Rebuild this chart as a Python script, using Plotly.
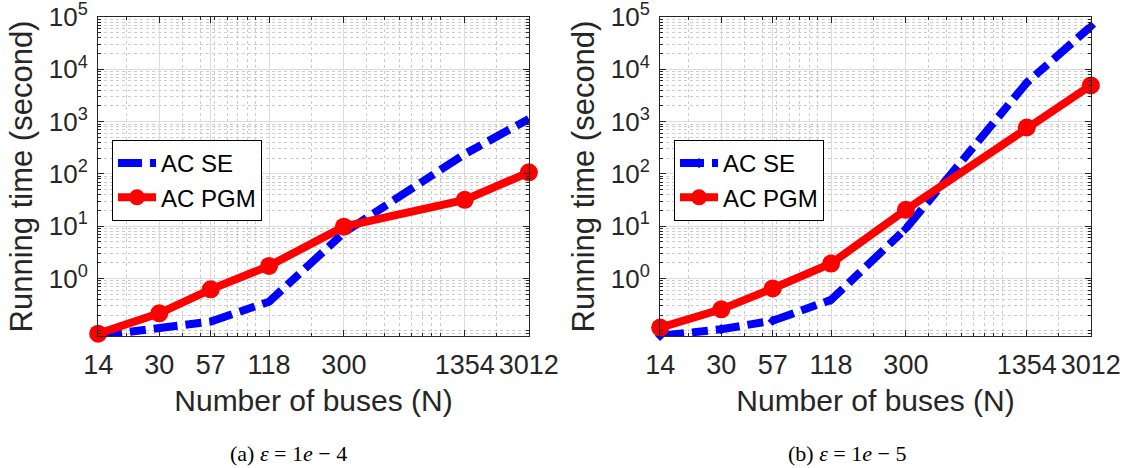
import math
import plotly.graph_objects as go

# ---- data ----
buses = [14, 30, 57, 118, 300, 1354, 3012]
bus_labels = ["14", "30", "57", "118", "300", "1354", "3012"]
se_a = [0.08, 0.112, 0.15, 0.36, 7.5, 240, 1120]
pgm_a = [0.088, 0.216, 0.62, 1.74, 9.8, 31.9, 107]
se_b = [0.08, 0.107, 0.156, 0.39, 9.0, 5540, 66000]
pgm_b = [0.115, 0.257, 0.645, 1.93, 20.6, 771, 4930]
y_major = [1, 10, 100, 1000, 10000, 100000]
y_major_text = ["10<sup>0</sup>", "10<sup>1</sup>", "10<sup>2</sup>",
                "10<sup>3</sup>", "10<sup>4</sup>", "10<sup>5</sup>"]
captions = ["(a) <i>ε</i> = 1<i>e</i> − 4", "(b) <i>ε</i> = 1<i>e</i> − 5"]

x_minor = [d * 10 ** p for p in range(1, 4) for d in range(1, 10)]
y_minor = [d * 10.0 ** p for p in range(-2, 5) for d in range(1, 10)]

FONT = "Liberation Sans, Arial, Helvetica, sans-serif"
SERIF = "Liberation Serif, Times New Roman, serif"
AX = "#262626"
BLUE = "#0000ff"
RED = "#ff0000"

fig = go.Figure()

def add_panel(se, pgm, xa, ya, legend, se_marker):
    fig.add_trace(go.Scatter(
        x=buses, y=se, name="AC SE", mode="lines+markers" if se_marker else "lines",
        line=dict(color=BLUE, width=8, dash="24px,8px,16px,8px"),
        marker=dict(symbol="diamond", size=8, color=BLUE) if se_marker else None,
        cliponaxis=False,
        xaxis=xa, yaxis=ya, legend=legend))
    fig.add_trace(go.Scatter(
        x=buses, y=pgm, name="AC PGM", mode="lines+markers",
        line=dict(color=RED, width=8),
        marker=dict(symbol="circle", size=18, color=RED),
        cliponaxis=False,
        xaxis=xa, yaxis=ya, legend=legend))

add_panel(se_a, pgm_a, "x", "y", "legend", False)
add_panel(se_b, pgm_b, "x2", "y2", "legend2", True)

W, H = 1127, 468
dom_left = [98 / W, 529 / W]
dom_right = [660 / W, 1091 / W]
dom_y = [(H - 336) / H, (H - 17) / H]

xr = [math.log10(14) - 0.0008, math.log10(3012) + 0.0008]
yr = [-1.1, 5.0005]

def xaxis(domain, anchor):
    return dict(
        type="log", domain=domain, anchor=anchor, range=xr,
        tickmode="array", tickvals=buses, ticktext=bus_labels,
        ticks="inside", ticklen=6, tickcolor=AX, tickwidth=1,
        showline=True, linecolor=AX, linewidth=1, mirror="allticks",
        showgrid=True, gridcolor="#dcdcdc", gridwidth=1,
        minor=dict(tickvals=x_minor, ticks="inside", ticklen=3, tickcolor=AX,
                   showgrid=True, gridcolor="#cccccc", griddash="dot", gridwidth=1),
        tickfont=dict(family=FONT, size=27, color=AX),
        ticklabelstandoff=5, ticklabeloverflow="allow",
        title=dict(text="Number of buses (N)", font=dict(family=FONT, size=30, color=AX),
                   standoff=10),
        automargin=False, zeroline=False,
    )

def yaxis(anchor):
    return dict(
        type="log", domain=dom_y, anchor=anchor, range=yr,
        tickmode="array", tickvals=y_major, ticktext=y_major_text,
        ticks="inside", ticklen=6, tickcolor=AX, tickwidth=1,
        showline=True, linecolor=AX, linewidth=1, mirror="allticks",
        showgrid=True, gridcolor="#dcdcdc", gridwidth=1,
        minor=dict(tickvals=y_minor, ticks="inside", ticklen=3, tickcolor=AX,
                   showgrid=True, gridcolor="#cccccc", griddash="dot", gridwidth=1),
        tickfont=dict(family=FONT, size=26, color=AX),
        ticklabelstandoff=4, ticklabeloverflow="allow",
        title=dict(text="Running time (second)", font=dict(family=FONT, size=31, color=AX),
                   standoff=6),
        automargin=False, zeroline=False,
    )

legend_common = dict(
    xanchor="left", yanchor="top",
    bgcolor="white", bordercolor="#000000", borderwidth=1,
    font=dict(family=FONT, size=24, color="black"),
    tracegroupgap=0, itemwidth=38,
)

fig.update_layout(
    width=W, height=H,
    margin=dict(l=0, r=0, t=0, b=0),
    paper_bgcolor="white", plot_bgcolor="white",
    showlegend=True,
    xaxis=xaxis(dom_left, "y"),
    yaxis=yaxis("x"),
    xaxis2=xaxis(dom_right, "y2"),
    yaxis2=yaxis("x2"),
    legend=dict(x=112 / W, y=(H - 140) / H, **legend_common),
    legend2=dict(x=674 / W, y=(H - 140) / H, **legend_common),
    annotations=[
        dict(text=captions[0], x=288 / W, y=(H - 453) / H, xref="paper", yref="paper",
             showarrow=False, xanchor="center", yanchor="middle",
             font=dict(family=SERIF, size=22, color="black")),
        dict(text=captions[1], x=847 / W, y=(H - 453) / H, xref="paper", yref="paper",
             showarrow=False, xanchor="center", yanchor="middle",
             font=dict(family=SERIF, size=22, color="black")),
    ],
)

fig.write_html(
    "out.html",
    config={"displayModeBar": False},
    post_script="document.body.style.margin='0px';document.body.style.padding='0px';"
                "document.body.style.overflow='hidden';",
)
